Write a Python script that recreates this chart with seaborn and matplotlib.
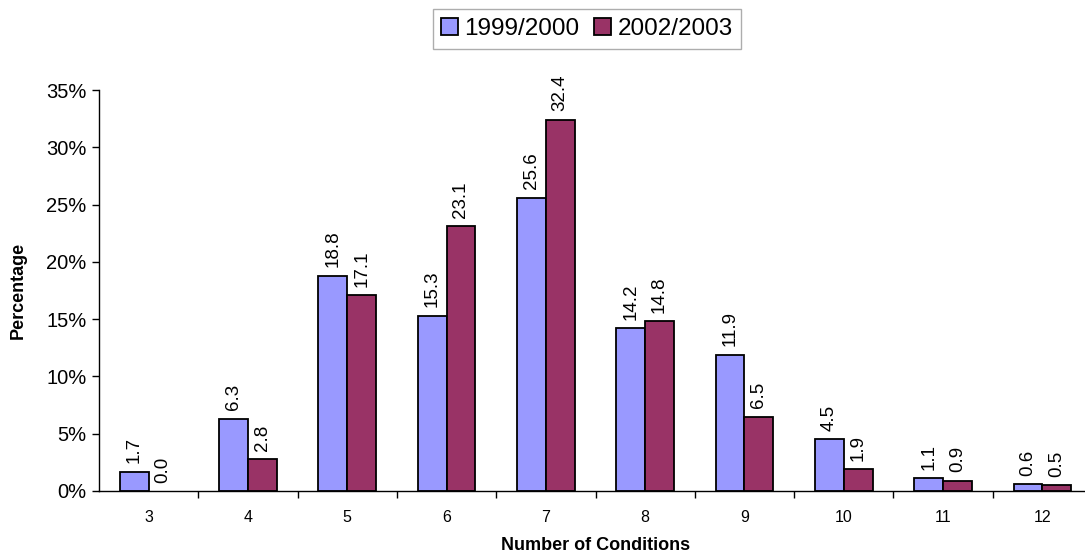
import numpy as np
import pandas as pd
import seaborn as sns
import matplotlib
matplotlib.use("Agg")
import matplotlib.pyplot as plt
from matplotlib.ticker import FuncFormatter, FixedLocator

# data
conditions = ["3", "4", "5", "6", "7", "8", "9", "10", "11", "12"]
pct_1999 = [1.7, 6.3, 18.8, 15.3, 25.6, 14.2, 11.9, 4.5, 1.1, 0.6]
pct_2002 = [0.0, 2.8, 17.1, 23.1, 32.4, 14.8, 6.5, 1.9, 0.9, 0.5]
series = ["1999/2000", "2002/2003"]

df = pd.DataFrame({
    "Conditions": conditions * 2,
    "Percentage": pct_1999 + pct_2002,
    "Year": [series[0]] * len(conditions) + [series[1]] * len(conditions),
})

sns.set_style("white")
plt.rcParams["font.family"] = ["Liberation Sans", "DejaVu Sans"]
plt.rcParams["text.color"] = "black"
plt.rcParams["xtick.color"] = "black"
plt.rcParams["ytick.color"] = "black"
plt.rcParams["axes.labelcolor"] = "black"

fig = plt.figure(figsize=(10.85, 5.58), dpi=100)
ax = fig.add_axes([99 / 1085, 1 - 491 / 558, 993 / 1085, 401 / 558])

sns.barplot(
    data=df, x="Conditions", y="Percentage", hue="Year",
    order=conditions, hue_order=series,
    palette={"1999/2000": "#9999FF", "2002/2003": "#993366"},
    width=0.58, edgecolor="black", linewidth=1.3, saturation=1,
    ax=ax,
)

# hide outline on zero-height bars (Excel draws nothing there)
for p in ax.patches:
    if p.get_height() == 0:
        p.set_linewidth(0)

# value labels
for cont in ax.containers:
    ax.bar_label(cont, fmt="%.1f", rotation=90, padding=6, fontsize=13.5)

ax.set_xlim(-0.5, len(conditions) - 0.5)
ax.set_ylim(0, 35)
ax.yaxis.set_major_locator(FixedLocator(np.arange(0, 36, 5)))
ax.yaxis.set_major_formatter(FuncFormatter(lambda v, p: f"{int(v)}%"))
ax.tick_params(axis="y", labelsize=14.5, direction="out", length=5, width=1, left=True, pad=4)
ax.tick_params(axis="x", labelsize=11.5, length=0, pad=14)
ax.xaxis.set_minor_locator(FixedLocator(np.arange(0.5, len(conditions) - 0.5, 1)))
ax.tick_params(axis="x", which="minor", direction="out", length=5, width=1, bottom=True)

for s in ["top", "right"]:
    ax.spines[s].set_visible(False)
for s in ["left", "bottom"]:
    ax.spines[s].set_color("black")
    ax.spines[s].set_linewidth(1)

ax.set_xlabel("Number of Conditions", fontsize=13, fontweight="bold", labelpad=8)
ax.set_ylabel("Percentage", fontsize=13, fontweight="bold", labelpad=14)

leg = ax.legend(
    loc="center", bbox_to_anchor=(587 / 1085, 1 - 29 / 558),
    bbox_transform=fig.transFigure, ncol=2, fontsize=17.5,
    frameon=True, fancybox=False, edgecolor="#999999",
    handlelength=0.7, handleheight=0.7, handletextpad=0.25, columnspacing=0.6,
    borderpad=0.35, borderaxespad=0,
)
for h in leg.legend_handles:
    h.set_edgecolor("black")
    h.set_linewidth(1.3)

fig.savefig("out.png", dpi=100)
